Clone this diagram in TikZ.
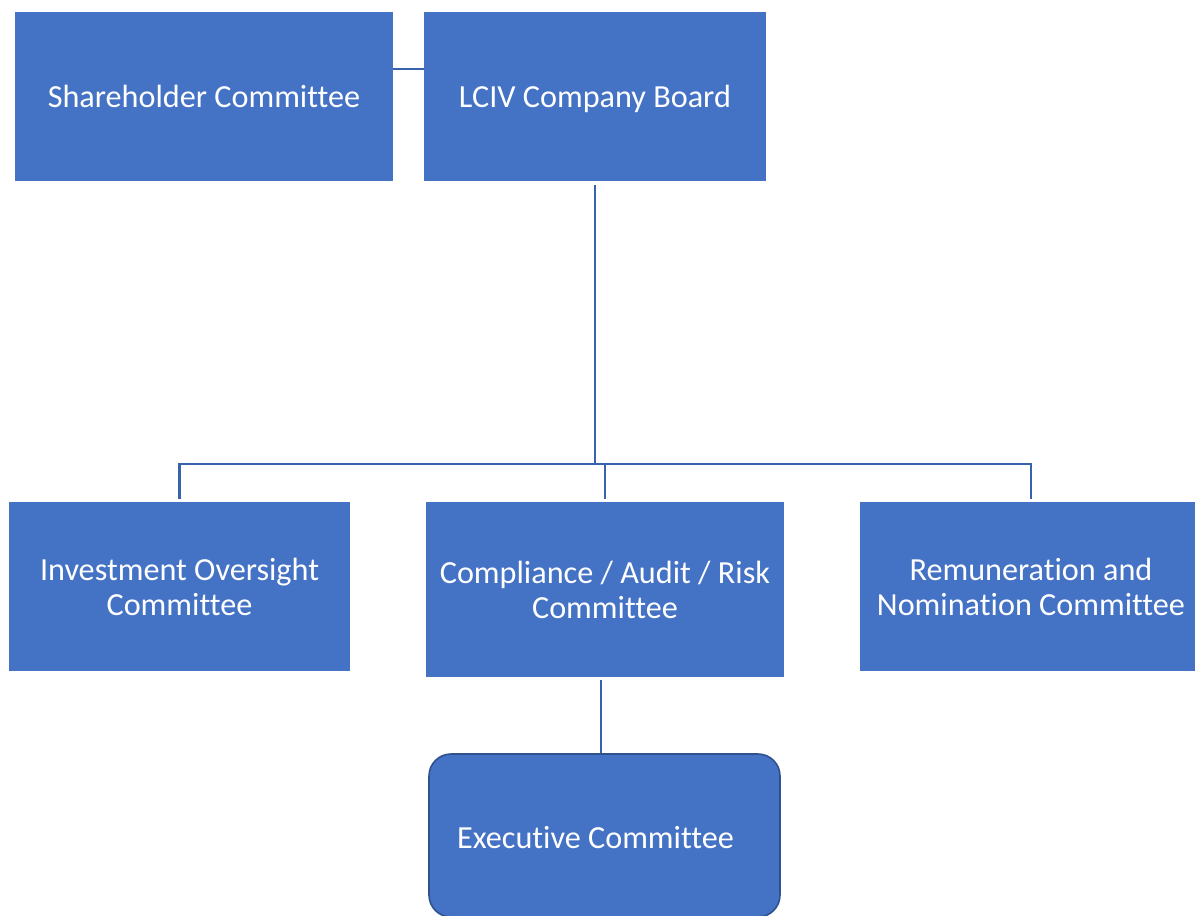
\documentclass[tikz,border=0pt]{standalone}
\usepackage{fontspec}
\setmainfont{Carlito}[Ligatures=NoCommon]
\definecolor{boxblue}{HTML}{4472C4}
\definecolor{lineblue}{HTML}{3862AD}
\definecolor{edgeblue}{HTML}{2F528F}
\begin{document}
\begin{tikzpicture}[x=1pt,y=-1pt,
  unit/.style={fill=boxblue, draw=none, inner sep=0pt, text=white, align=center,
    font=\fontsize{32.2}{35}\selectfont},
  exec/.style={unit, draw=edgeblue, line width=1.6pt, rounded corners=22pt},
  conn/.style={draw=lineblue, line width=2.4pt}]
\clip (0,0) rectangle (1195,916);
\fill[white] (0,0) rectangle (1195,916);
\node[unit, minimum width=378pt, minimum height=169pt] (sh) at (204,96.5) {Shareholder Committee};
\node[unit, minimum width=342pt, minimum height=169pt, text depth=0pt] (lc) at (595,96.5) {LCIV Company Board};
\node[unit, minimum width=341pt, minimum height=169pt] (inv) at (179.5,586.5) {Investment Oversight\\Committee};
\node[unit, minimum width=358pt, minimum height=175pt] (comp) at (605,589.5) {Compliance / Audit / Risk\\Committee};
\node[unit, minimum width=342pt, minimum height=169pt] (rem) at (1031,586.5) {Remuneration and\\Nomination Committee};
\node[exec, minimum width=351pt, minimum height=163pt] (ex) at (604.5,835.5) {};
\node[unit, fill=none] (extxt) at (595.5,838) {Executive Committee};
\coordinate (hj) at (595,464);
\draw[conn] ([yshift=27.5pt]sh.east) -- ([yshift=27.5pt]lc.west);
\draw[conn] ([yshift=-4pt]lc.south) -- (hj);
\draw[conn] ([yshift=3pt]inv.north) |- (hj) -| ([yshift=3pt]rem.north);
\draw[conn] ([yshift=3pt]comp.north) -- (comp.north |- hj);
\draw[conn] ([xshift=-4pt,yshift=-3pt]comp.south) -- ([xshift=-3.5pt]ex.north);
\end{tikzpicture}
\end{document}
